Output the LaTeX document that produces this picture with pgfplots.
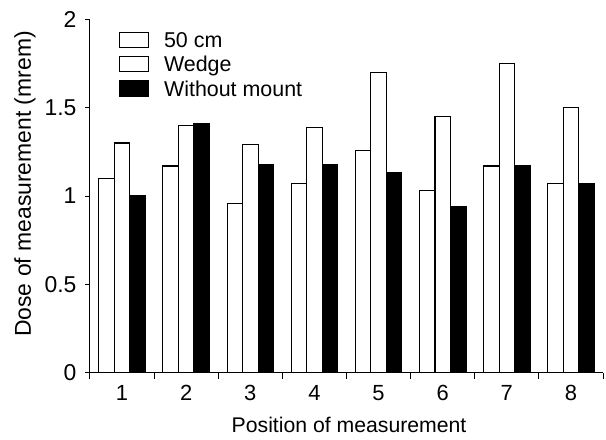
\documentclass[border=0pt]{standalone}
\usepackage{fontspec}
\setmainfont{Liberation Sans}
\usepackage{pgfplots}
\pgfplotsset{compat=1.18}
\begin{document}
\begin{tikzpicture}
\begin{axis}[
  width=513bp, height=353.4bp, scale only axis,
  xmin=0.5, xmax=8.5, ymin=0, ymax=2,
  axis x line=bottom, axis y line=left,
  axis line style={-, line width=1bp},
  ybar=0pt, bar width=15.5bp,
  xtick={1,...,8}, minor xtick={0.5,1.5,...,8.5},
  major x tick style={draw=none},
  ytick={0,0.5,1,1.5,2},
  tick align=outside, major tick length=5bp, minor tick length=6bp,
  tick style={line width=1bp, black},
  /pgf/number format/assume math mode=true,
  yticklabel style={font=\fontsize{23}{25}\selectfont, xshift=-5bp},
  xticklabel style={font=\fontsize{22}{24}\selectfont, yshift=-4bp},
  xlabel={Position of measurement},
  xlabel style={font=\fontsize{21.3}{23}\selectfont, at={(rel axis cs:0.505,-0.168)}, anchor=base},
  ylabel={Dose of measurement (mrem)},
  ylabel style={font=\fontsize{23}{25}\selectfont, at={(rel axis cs:-0.1267,0.534)}, anchor=center},
  legend image code/.code={\draw[#1,line width=1.1bp] (0bp,-7.5bp) rectangle (29bp,7.5bp);},
  legend cell align=left,
  legend style={at={(rel axis cs:0.0565,0.965)}, anchor=north west, draw=none, fill=none,
    inner sep=0pt, outer sep=0pt, row sep=8.3bp, column sep=15bp,
    font=\fontsize{21.5}{23}\selectfont,
    nodes={inner sep=0pt, text height=15.4bp, text depth=0bp}},
  clip=false,
]
\addplot[draw=black, fill=white, line width=1.1bp] coordinates {(1,1.10)(2,1.17)(3,0.96)(4,1.07)(5,1.26)(6,1.03)(7,1.17)(8,1.07)};
\addplot[draw=black, fill=white, line width=1.1bp] coordinates {(1,1.30)(2,1.40)(3,1.29)(4,1.39)(5,1.70)(6,1.45)(7,1.75)(8,1.50)};
\addplot[draw=black, fill=black, line width=1.1bp] coordinates {(1,1.00)(2,1.41)(3,1.18)(4,1.18)(5,1.13)(6,0.94)(7,1.17)(8,1.07)};
\legend{50 cm, Wedge, Without mount}
\path (rel axis cs:-0.1754,-0.1876) rectangle (rel axis cs:1.0058,1.0546);
\end{axis}
\end{tikzpicture}
\end{document}
